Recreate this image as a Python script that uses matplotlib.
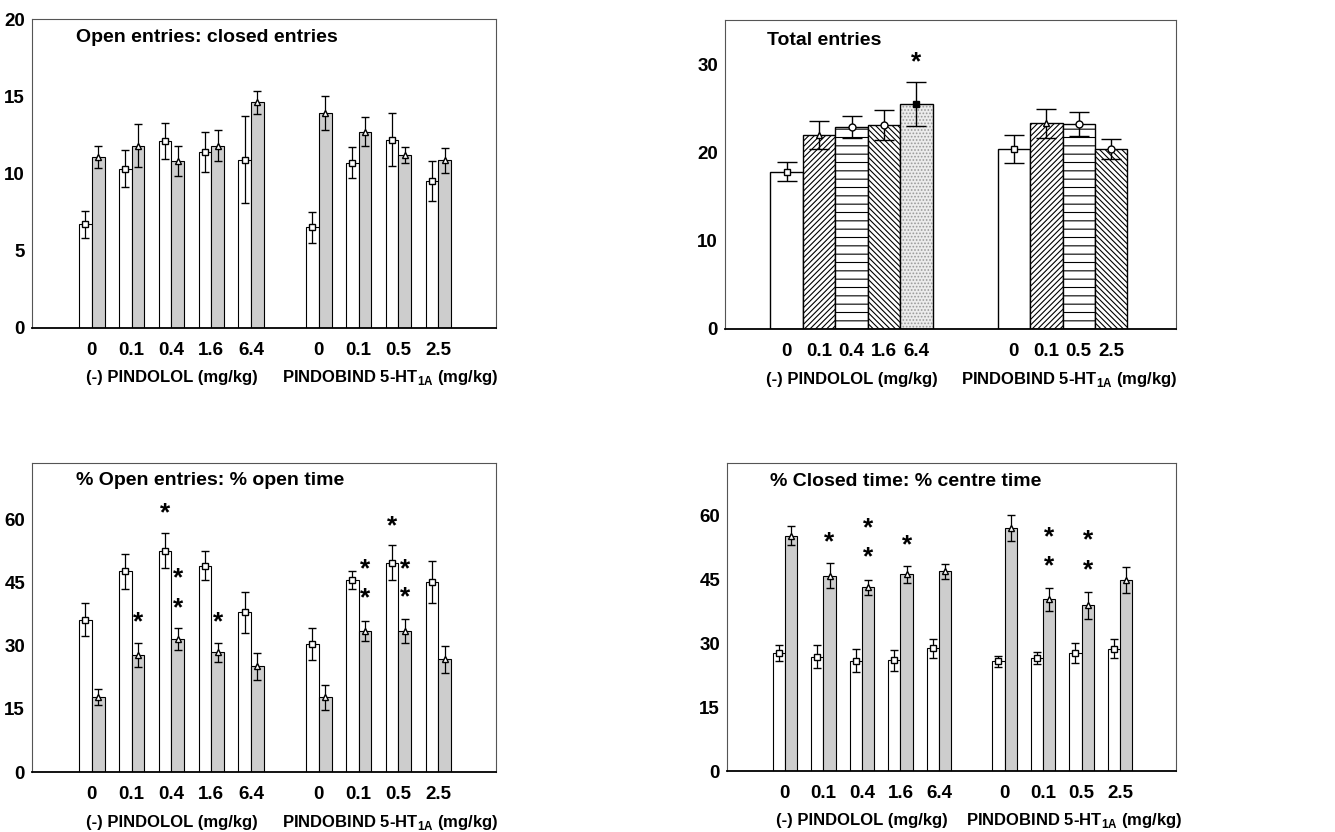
import matplotlib
matplotlib.use('Agg')
import matplotlib.pyplot as plt
from matplotlib.transforms import blended_transform_factory

plt.rcParams['font.family'] = ['Liberation Sans', 'DejaVu Sans']
plt.rcParams['font.weight'] = 'bold'
plt.rcParams['mathtext.fontset'] = 'custom'
plt.rcParams['mathtext.bf'] = 'Liberation Sans:bold'
plt.rcParams['mathtext.rm'] = 'Liberation Sans:bold'
plt.rcParams['hatch.linewidth'] = 0.8

# dose labels
pin_doses = ['0', '0.1', '0.4', '1.6', '6.4']
pb_doses = ['0', '0.1', '0.5', '2.5']
pin_label = '(-) PINDOLOL (mg/kg)'
pb_label = r'PINDOBIND 5-HT$_{\mathbf{1A}}$ (mg/kg)'

# Open entries : closed entries (pindolol doses then pindobind doses)
a_open = [6.7, 10.3, 12.1, 11.4, 10.9, 6.5, 10.7, 12.2, 9.5]
a_open_sem = [0.9, 1.2, 1.15, 1.3, 2.8, 1.0, 1.0, 1.7, 1.3]
a_closed = [11.05, 11.8, 10.8, 11.8, 14.6, 13.9, 12.7, 11.2, 10.85]
a_closed_sem = [0.7, 1.4, 0.95, 1.0, 0.75, 1.1, 0.95, 0.5, 0.8]

# Total entries
b_total = [17.8, 22.0, 22.9, 23.1, 25.5, 20.4, 23.3, 23.25, 20.35]
b_total_sem = [1.07, 1.6, 1.26, 1.75, 2.5, 1.6, 1.65, 1.35, 1.15]
b_stars = [(4, 30.6)]

# % open entries : % open time
c_entries = [36.2, 47.6, 52.5, 49.0, 37.9, 30.4, 45.6, 49.7, 45.1]
c_entries_sem = [4.0, 4.05, 4.15, 3.45, 4.9, 3.7, 2.05, 4.1, 4.95]
c_time = [17.8, 27.8, 31.5, 28.5, 25.1, 17.8, 33.5, 33.5, 26.8]
c_time_sem = [1.95, 2.85, 2.6, 2.25, 3.2, 2.95, 2.45, 2.8, 3.15]
c_stars_white = [(2, 62.2), (7, 59.2)]
c_stars_grey = [(1, 36.4), (2, 46.8), (2, 39.8), (3, 36.4),
                (6, 49.0), (6, 42.1), (7, 49.0), (7, 42.3)]

# % closed time : % centre time
d_closed = [27.7, 26.8, 25.9, 26.0, 28.75, 25.7, 26.6, 27.7, 28.7]
d_closed_sem = [1.8, 2.65, 2.7, 2.45, 2.2, 1.25, 1.4, 2.25, 2.3]
d_centre = [55.2, 45.8, 43.1, 46.1, 46.8, 57.0, 40.3, 38.9, 44.8]
d_centre_sem = [2.3, 2.9, 1.8, 1.95, 1.65, 3.0, 2.7, 3.2, 3.15]
d_stars_grey = [(1, 54.6), (2, 57.9), (2, 50.9), (3, 53.7),
                (6, 55.7), (6, 48.9), (7, 55.0), (7, 48.0)]

GREY = '#cdcdcd'


def style_axes(ax):
    for side in ['top', 'right', 'left']:
        ax.spines[side].set_color('#555555')
        ax.spines[side].set_linewidth(0.8)
    ax.spines['bottom'].set_linewidth(1.3)
    ax.tick_params(length=0, labelsize=13.5)
    ax.tick_params(axis='x', pad=10)
    ax.tick_params(axis='y', pad=5)


def group_labels(ax, x1, x2):
    tr = blended_transform_factory(ax.transData, ax.transAxes)
    ax.text(x1, -0.162, pin_label, transform=tr, ha='center', va='center', fontsize=12)
    ax.text(x2, -0.162, pb_label, transform=tr, ha='center', va='center', fontsize=12)


def star(ax, x, y):
    ax.text(x, y - 0.012 * ax.get_ylim()[1], '*', ha='center', va='center', fontsize=19)


def paired_panel(ax, title, white, white_sem, grey, grey_sem, ymax, yticks,
                 stars_white=(), stars_grey=()):
    pos = list(range(5)) + [5.7 + i for i in range(4)]
    w = 0.32
    xw = [p - w / 2 for p in pos]
    xg = [p + w / 2 for p in pos]
    ax.bar(xw, white, w, color='white', edgecolor='black', linewidth=0.8)
    ax.bar(xg, grey, w, color=GREY, edgecolor='black', linewidth=0.8)
    ax.errorbar(xw, white, yerr=white_sem, fmt='s', ms=4.5, mfc='white', mec='black',
                mew=1.0, ecolor='black', elinewidth=0.9, capsize=3, capthick=0.9)
    ax.errorbar(xg, grey, yerr=grey_sem, fmt='^', ms=4.5, mfc='white', mec='black',
                mew=1.0, ecolor='black', elinewidth=0.9, capsize=3, capthick=0.9)
    ax.set_xlim(-1.5, 10.15)
    ax.set_ylim(0, ymax)
    for i, y in stars_white:
        star(ax, xw[i], y)
    for i, y in stars_grey:
        star(ax, xg[i], y)
    ax.set_yticks(yticks)
    ax.set_xticks(pos)
    ax.set_xticklabels(pin_doses + pb_doses)
    ax.text(0.095, 0.942, title, transform=ax.transAxes, ha='left', va='center', fontsize=14)
    style_axes(ax)
    group_labels(ax, 2.0, 7.5)


fig = plt.figure(figsize=(13.35, 8.32), dpi=100)

ax1 = fig.add_axes([0.024, 0.606, 0.3476, 0.371])
paired_panel(ax1, 'Open entries: closed entries', a_open, a_open_sem, a_closed, a_closed_sem,
             20, [0, 5, 10, 15, 20])

ax3 = fig.add_axes([0.024, 0.0718, 0.3476, 0.3721])
paired_panel(ax3, '% Open entries: % open time', c_entries, c_entries_sem, c_time, c_time_sem,
             73.4, [0, 15, 30, 45, 60], c_stars_white, c_stars_grey)

ax4 = fig.add_axes([0.5446, 0.0733, 0.3363, 0.370])
paired_panel(ax4, '% Closed time: % centre time', d_closed, d_closed_sem, d_centre, d_centre_sem,
             72.2, [0, 15, 30, 45, 60], (), d_stars_grey)

# total entries panel
ax2 = fig.add_axes([0.543, 0.6046, 0.338, 0.3714])
pos_b = list(range(5)) + [7 + i for i in range(4)]
hatches = ['', '//////', '--', '\\\\\\\\\\\\', None, '', '//////', '--', '\\\\\\\\\\\\']
markers = ['s', '^', 'o', 'o', 's', 's', '^', 'o', 'o']
for i in range(len(pos_b)):
    if hatches[i] is None:
        ax2.bar(pos_b[i], b_total[i], 1.0, color='#ececec', edgecolor='#9a9a9a',
                hatch='.....', linewidth=0)
        ax2.bar(pos_b[i], b_total[i], 1.0, fill=False, edgecolor='black', linewidth=1.0)
    else:
        ax2.bar(pos_b[i], b_total[i], 1.0, color='white', edgecolor='black',
                hatch=hatches[i], linewidth=1.0)
    mfc = 'black' if hatches[i] is None else 'white'
    ax2.errorbar(pos_b[i], b_total[i], yerr=b_total_sem[i], fmt=markers[i], ms=5,
                 mfc=mfc, mec='black', mew=1.0, ecolor='black', elinewidth=1.0,
                 capsize=7, capthick=1.0)
ax2.set_xlim(-1.9, 12.0)
ax2.set_ylim(0, 35)
for i, y in b_stars:
    star(ax2, pos_b[i], y)
ax2.set_yticks([0, 10, 20, 30])
ax2.set_xticks(pos_b)
ax2.set_xticklabels(pin_doses + pb_doses)
ax2.text(0.093, 0.935, 'Total entries', transform=ax2.transAxes, ha='left', va='center',
         fontsize=14)
style_axes(ax2)
group_labels(ax2, 2.0, 8.7)

fig.savefig('out.png', dpi=100)
